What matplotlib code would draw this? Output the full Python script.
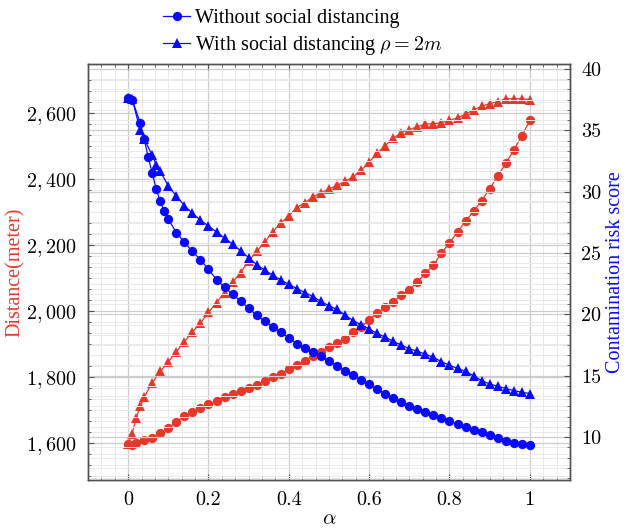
import numpy as np
import matplotlib
matplotlib.use("Agg")
import matplotlib.pyplot as plt
from matplotlib.ticker import AutoMinorLocator, FuncFormatter, MultipleLocator

# distance (left axis), without social distancing
x_dist_wo = [0, 0.01, 0.02, 0.04, 0.06, 0.08, 0.10, 0.12, 0.14, 0.16, 0.18, 0.20,
             0.22, 0.24, 0.26, 0.28, 0.30, 0.32, 0.34, 0.36, 0.38, 0.40, 0.42, 0.44,
             0.46, 0.48, 0.50, 0.52, 0.54, 0.56, 0.58, 0.60, 0.62, 0.64, 0.66, 0.68,
             0.70, 0.72, 0.74, 0.76, 0.78, 0.80, 0.82, 0.84, 0.86, 0.88, 0.90, 0.92,
             0.94, 0.96, 0.98, 1.00]
dist_wo = [1595, 1592, 1600, 1607, 1615, 1629, 1645, 1663, 1680, 1693, 1705, 1716,
           1728, 1740, 1748, 1756, 1767, 1774, 1787, 1800, 1809, 1823, 1836, 1849,
           1863, 1876, 1891, 1903, 1916, 1936, 1951, 1972, 1994, 2010, 2027, 2047,
           2064, 2087, 2114, 2138, 2174, 2207, 2238, 2272, 2301, 2334, 2370, 2408,
           2447, 2487, 2530, 2577]

# distance (left axis), with social distancing
x_dist_sd = [0, 0.01, 0.02, 0.03, 0.04, 0.06, 0.08, 0.10, 0.12, 0.14, 0.16, 0.18,
             0.20, 0.22, 0.24, 0.26, 0.28, 0.30, 0.32, 0.34, 0.36, 0.38, 0.40, 0.42,
             0.44, 0.46, 0.48, 0.50, 0.52, 0.54, 0.56, 0.58, 0.60, 0.62, 0.64, 0.66,
             0.68, 0.70, 0.72, 0.74, 0.76, 0.78, 0.80, 0.82, 0.84, 0.86, 0.88, 0.90,
             0.92, 0.94, 0.96, 0.98, 1.00]
dist_sd = [1595, 1628, 1675, 1710, 1738, 1782, 1816, 1845, 1876, 1906, 1936, 1962,
           1995, 2025, 2055, 2086, 2116, 2150, 2180, 2208, 2240, 2266, 2288, 2313,
           2328, 2345, 2358, 2369, 2380, 2392, 2406, 2426, 2451, 2477, 2501, 2523,
           2540, 2549, 2558, 2566, 2567, 2570, 2577, 2585, 2596, 2609, 2620, 2628,
           2634, 2643, 2643, 2643, 2640]

# contamination risk score (right axis), without social distancing
x_risk_wo = [0, 0.01, 0.03, 0.04, 0.05, 0.06, 0.07, 0.08, 0.09, 0.10, 0.12, 0.14,
             0.16, 0.18, 0.20, 0.22, 0.24, 0.26, 0.28, 0.30, 0.32, 0.34, 0.36, 0.38,
             0.40, 0.42, 0.44, 0.46, 0.48, 0.50, 0.52, 0.54, 0.56, 0.58, 0.60, 0.62,
             0.64, 0.66, 0.68, 0.70, 0.72, 0.74, 0.76, 0.78, 0.80, 0.82, 0.84, 0.86,
             0.88, 0.90, 0.92, 0.94, 0.96, 0.98, 1.00]
risk_wo = [37.6, 37.5, 35.6, 34.3, 32.8, 31.5, 30.2, 29.2, 28.4, 27.75, 26.67, 25.87,
           25.13, 24.45, 23.67, 22.84, 22.2, 21.66, 21.06, 20.51, 19.92, 19.42, 19.0, 18.55,
           18.09, 17.61, 17.22, 16.91, 16.57, 16.2, 15.81, 15.42, 15.04, 14.66, 14.3, 13.91,
           13.53, 13.16, 12.84, 12.55, 12.27, 12.03, 11.78, 11.56, 11.3, 11.07, 10.84, 10.6,
           10.39, 10.18, 9.95, 9.71, 9.55, 9.46, 9.33]

# contamination risk score (right axis), with social distancing
x_risk_sd = [0, 0.01, 0.03, 0.04, 0.06, 0.07, 0.08, 0.10, 0.12, 0.14, 0.16, 0.18,
             0.20, 0.22, 0.24, 0.26, 0.28, 0.30, 0.32, 0.34, 0.36, 0.38, 0.40, 0.42,
             0.44, 0.46, 0.48, 0.50, 0.52, 0.54, 0.56, 0.58, 0.60, 0.62, 0.64, 0.66,
             0.68, 0.70, 0.72, 0.74, 0.76, 0.78, 0.80, 0.82, 0.84, 0.86, 0.88, 0.90,
             0.92, 0.94, 0.96, 0.98, 1.00]
risk_sd = [37.6, 37.55, 35.0, 34.3, 32.95, 32.2, 31.67, 30.45, 29.65, 28.86, 28.25, 27.68,
           27.2, 26.72, 26.2, 25.74, 25.17, 24.62, 24.05, 23.6, 23.2, 22.8, 22.45, 22.1,
           21.78, 21.45, 21.05, 20.7, 20.4, 19.95, 19.5, 19.15, 18.8, 18.45, 18.15, 17.8,
           17.5, 17.2, 17.0, 16.75, 16.5, 16.15, 15.85, 15.6, 15.35, 15.0, 14.6, 14.33,
           14.14, 13.95, 13.79, 13.65, 13.55]

x_ticks = [0, 0.2, 0.4, 0.6, 0.8, 1]
dist_ticks = [1600, 1800, 2000, 2200, 2400, 2600]
risk_ticks = [10, 15, 20, 25, 30, 35, 40]

RED = '#e6372a'
BLUE = '#0a0aff'

plt.rcParams['font.family'] = ['Liberation Serif', 'DejaVu Serif']
plt.rcParams['mathtext.fontset'] = 'cm'
plt.rcParams['font.size'] = 14

fig = plt.figure(figsize=(6.28, 5.31), dpi=100)
ax = fig.add_axes([0.1401, 0.096, 0.7675, 0.7834])
ax2 = ax.twinx()


def style_grid(a, which_axis):
    a.grid(True, which='major', axis=which_axis, color='#cccccc', lw=0.9)
    a.grid(True, which='minor', axis=which_axis, color='#e9e9e9', lw=0.7)
    a.set_axisbelow(True)


def thousands(v, pos):
    v = int(round(v))
    return r'$%d,%03d$' % (v // 1000, v % 1000)


mk = dict(lw=0.9, ms=6.7, markeredgewidth=0)
ax.plot(x_dist_wo, dist_wo, '-o', color=RED, **mk)
ax.plot(x_dist_sd, dist_sd, '-^', color=RED, **mk)
l1, = ax2.plot(x_risk_wo, risk_wo, '-o', color=BLUE, **mk)
l2, = ax2.plot(x_risk_sd, risk_sd, '-^', color=BLUE, **mk)

ax.set_xlim(-0.1, 1.1)
ax.set_ylim(1487, 2748)
ax2.set_ylim(6.5, 40.4)

ax.set_xticks(x_ticks)
ax.xaxis.set_major_formatter(FuncFormatter(lambda v, p: f'{v:g}'))
ax.xaxis.set_minor_locator(MultipleLocator(0.2 / 6))
ax.set_yticks(dist_ticks)
ax.yaxis.set_major_formatter(FuncFormatter(thousands))
ax.yaxis.set_minor_locator(AutoMinorLocator(6))
ax2.set_yticks(risk_ticks)
ax2.yaxis.set_minor_locator(AutoMinorLocator(6))

style_grid(ax, 'both')
style_grid(ax2, 'y')

for a in (ax, ax2):
    for s in a.spines.values():
        s.set_color('#505050')
        s.set_linewidth(1.0)
    a.tick_params(which='major', direction='in', length=4, color='#505050',
                  labelsize=14.5, labelfontfamily='cmr10')
    a.tick_params(which='minor', direction='in', length=2, color='#505050')
ax.tick_params(axis='x', which='both', top=True, pad=8)
ax.tick_params(axis='y', which='both', right=False, pad=8)
ax2.tick_params(axis='y', which='both', left=False, pad=8)

# axis titles placed in figure pixels to match the reference
W, H = 628, 531
fig.text(329 / W, 1 - 520 / H, r'$\alpha$', fontsize=15, ha='center', va='center')
fig.text(15 / W, 1 - 272 / H, 'Distance(meter)', color=RED, fontsize=14.5,
         rotation=90, ha='center', va='center')
fig.text(616 / W, 1 - 272 / H, 'Contamination risk score', color=BLUE, fontsize=14.5,
         rotation=90, ha='center', va='center')

fig.legend([l1, l2], ['Without social distancing', r'With social distancing $\rho = 2m$'],
           loc='upper left', bbox_to_anchor=(163 / W, 1 - 9 / H), frameon=False,
           fontsize=14.5, handlelength=1.35, handletextpad=0.25, labelspacing=0.3,
           borderpad=0, borderaxespad=0)

fig.savefig('out.png', dpi=100)
